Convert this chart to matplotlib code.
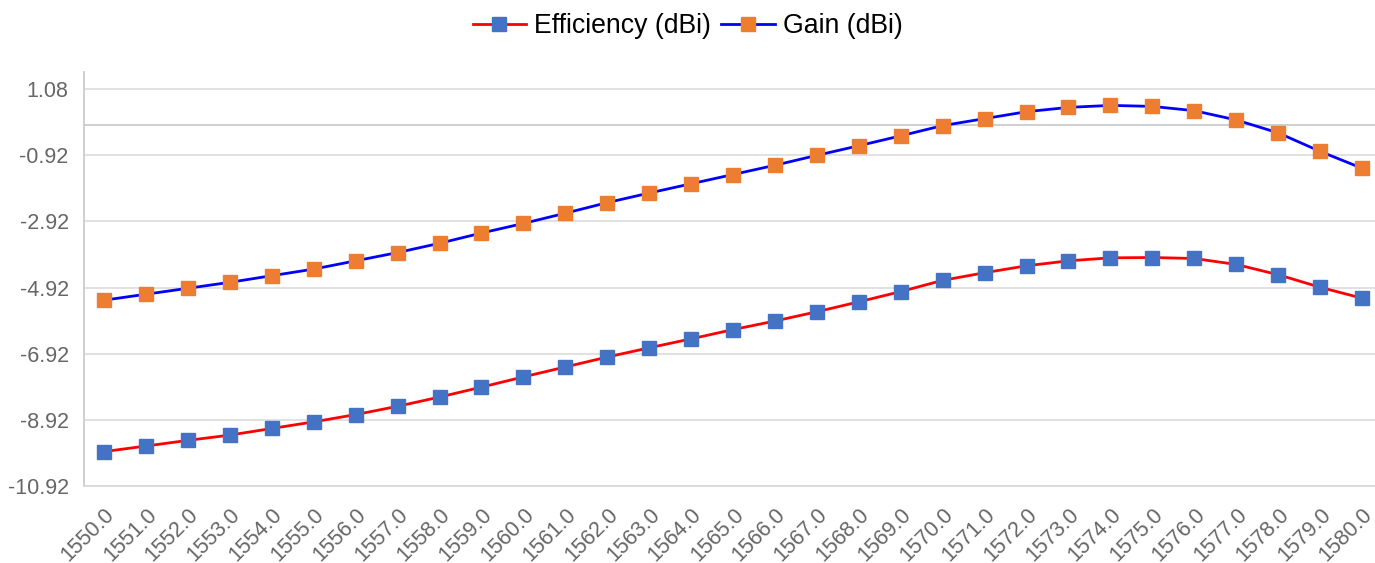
import matplotlib
matplotlib.use("Agg")
import matplotlib.pyplot as plt

freqs = [1550 + i for i in range(31)]
freq_labels = [f"{f:.1f}" for f in freqs]

efficiency = [-9.88, -9.71, -9.54, -9.38, -9.18, -8.98, -8.76, -8.51, -8.23, -7.93,
              -7.62, -7.32, -7.02, -6.74, -6.47, -6.19, -5.93, -5.65, -5.35, -5.04,
              -4.70, -4.47, -4.26, -4.11, -4.02, -4.01, -4.04, -4.22, -4.53, -4.91, -5.24]

gain = [-5.30, -5.12, -4.94, -4.76, -4.56, -4.36, -4.11, -3.86, -3.58, -3.27,
        -2.98, -2.67, -2.35, -2.06, -1.78, -1.50, -1.22, -0.92, -0.63, -0.33,
        -0.02, 0.19, 0.40, 0.53, 0.59, 0.56, 0.43, 0.15, -0.24, -0.80, -1.31]

y_ticks = [1.08, -0.92, -2.92, -4.92, -6.92, -8.92, -10.92]
y_tick_labels = ["1.08", "-0.92", "-2.92", "-4.92", "-6.92", "-8.92", "-10.92"]

plt.rcParams['font.family'] = ['Liberation Sans', 'DejaVu Sans']

fig = plt.figure(figsize=(13.75, 5.63), dpi=100)
ax = fig.add_axes([84/1375, 1 - 486/563, 1 - 84/1375, (486 - 72)/563])

ax.plot(freqs, efficiency, color='#ff0000', lw=2.0, marker='s', ms=10.5,
        mfc='#4472c4', mec='#4472c4', label='Efficiency (dBi)', zorder=3)
ax.plot(freqs, gain, color='#0000ff', lw=2.0, marker='s', ms=10.5,
        mfc='#ed7d31', mec='#ed7d31', label='Gain (dBi)', zorder=3)

ax.set_xlim(1549.52, 1580.31)
ax.set_ylim(-10.92, 1.60)
ax.set_yticks(y_ticks)
ax.set_yticklabels(y_tick_labels)
ax.set_xticks(freqs)
ax.set_xticklabels(freq_labels, rotation=45, ha='right', rotation_mode='anchor')

ax.tick_params(axis='both', length=0, labelsize=15.5, labelcolor='#666666')
ax.tick_params(axis='y', pad=11)
ax.tick_params(axis='x', pad=13)

ax.grid(axis='y', color='#d9d9d9', lw=1.1)
ax.axhline(0, color='#cccccc', lw=1.3, zorder=1)
ax.set_axisbelow(True)
for s in ['top', 'right']:
    ax.spines[s].set_visible(False)
ax.spines['left'].set_color('#cccccc')
ax.spines['bottom'].set_color('#d9d9d9')
ax.spines['left'].set_linewidth(1.3)
ax.spines['bottom'].set_linewidth(1.3)

fig.legend(loc='center', bbox_to_anchor=(0.5, 1 - 26/563), ncol=2, frameon=False,
           fontsize=19.2, handlelength=2.0, handletextpad=0.3, columnspacing=0.4,
           markerscale=1.0)

fig.savefig('out.png', dpi=100)
